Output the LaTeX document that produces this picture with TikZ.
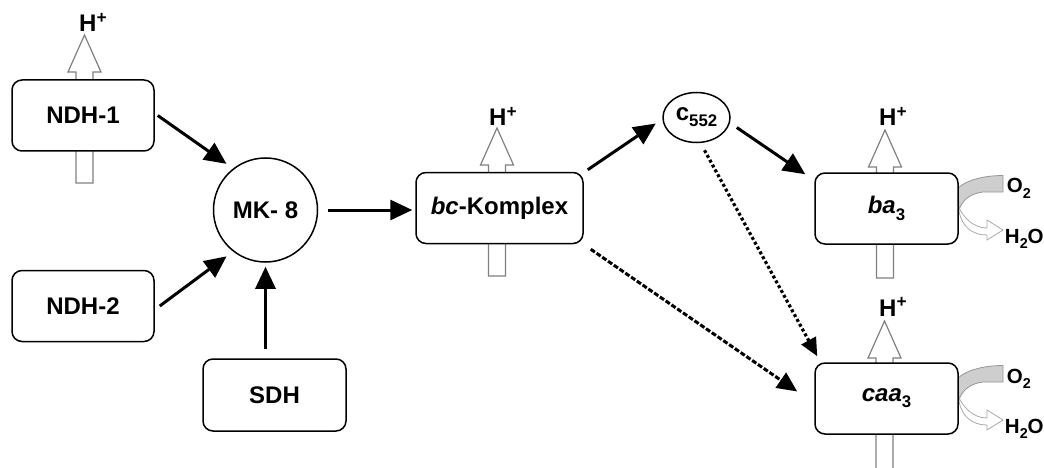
\documentclass[tikz,border=0pt]{standalone}
\usepackage{fontspec}
\usepackage{graphicx}
\setmainfont{Liberation Sans}
\usetikzlibrary{arrows.meta,calc,shapes.geometric}
\newcommand\lowsub[1]{\raisebox{-0.26em}{\scalebox{0.7}{#1}}}
\newcommand\hplus{H\raisebox{0.36em}{\scalebox{0.72}{+}}}
\definecolor{upgray}{RGB}{128,128,128}
\definecolor{bandgray}{RGB}{206,206,206}
\definecolor{bandline}{RGB}{150,150,150}
\definecolor{waterline}{RGB}{170,170,170}
\begin{document}
\begin{tikzpicture}[x=1pt,y=-1pt,
  box/.style={draw, line width=1.5pt, rounded corners=10pt, fill=white,
    minimum width=142pt, minimum height=71pt, inner sep=0pt,
    font=\fontsize{24}{28}\selectfont\bfseries},
  circ/.style={draw, circle, line width=1.5pt, fill=white, minimum size=104pt,
    inner sep=0pt, font=\fontsize{24}{28}\selectfont\bfseries},
  ell/.style={draw, ellipse, line width=1.5pt, fill=white, minimum width=67pt,
    minimum height=50pt, inner sep=0pt, font=\fontsize{24}{28}\selectfont\bfseries},
  hp/.style={inner sep=0pt, font=\fontsize{24}{28}\selectfont\bfseries},
  ox/.style={inner sep=0pt, font=\fontsize{20.5}{24}\selectfont\bfseries},
  arr/.style={line width=3pt, -{Triangle[length=22pt,width=20pt]}},
  dotarr/.style={line width=3.2pt, dash pattern=on 3pt off 2.5pt, -{Triangle[length=18pt,width=16pt]}},
  dasharr/.style={line width=3pt, dash pattern=on 5pt off 2pt, -{Triangle[length=20pt,width=18pt]}},
  upar/.pic={\draw[upgray, line width=1.2pt, fill=white, line join=miter]
    (-8.5,148) -- (-8.5,37) -- (-16.5,37) -- (0,0) -- (16.5,37) -- (8.5,37) -- (8.5,148) -- cycle;},
  o2band/.pic={
    \draw[bandline, line width=0.8pt, fill=bandgray]
      (0,-20.5) .. controls (8,-28) and (25,-33) .. (45,-33) -- (45,-16.5) -- (25,-16.5)
      .. controls (12,-15) and (4,-8) .. (1,1.5) -- cycle;
    \draw[waterline, line width=0.8pt, fill=white, line join=miter]
      (1,-0.5) .. controls (6,9) and (15,19.5) .. (29,19.5) -- (29,11.5) -- (45,21.5)
      -- (29,31.5) -- (29,26.5) .. controls (14,26.5) and (4,18) .. (1,3) -- cycle;}
]
\useasboundingbox (0,0) rectangle (1044,468);

% proton pump arrows (behind the boxes)
\pic at (84.5,35) {upar};
\pic at (497,128) {upar};
\pic at (885,130) {upar};
\pic at (884.5,321) {upar};

% O2 / H2O bands
\pic at (958,208.5) {o2band};
\pic at (958,398.5) {o2band};

% nodes
\node[box] (ndh1) at (83,115.5) {NDH-1};
\node[box] (ndh2) at (83,306) {NDH-2};
\node[box, minimum width=143pt, minimum height=72pt] (sdh) at (274.5,395) {SDH};
\node[circ] (mk8) at (265.5,210) {MK- 8};
\node[box, minimum width=167pt] (bc) at (499.5,208) {\textit{bc}-Komplex};
\node[ell] (c552) at (696.5,117.5) {c\lowsub{552}};
\node[box, minimum width=143pt] (ba3) at (886.5,208.5) {\textit{ba}\lowsub{3}};
\node[box, minimum width=143pt] (caa3) at (886.5,398.5) {\textit{caa}\lowsub{3}};

% H+ labels
\node[hp, anchor=base west] (hp1) at (79,32) {\hplus};
\node[hp, anchor=base west] (hp2) at (489,126) {\hplus};
\node[hp, anchor=base west] (hp3) at (879,126) {\hplus};
\node[hp, anchor=base west] (hp4) at (879,316) {\hplus};

% O2 / H2O labels
\node[ox, anchor=base west] (o2a) at ($(ba3.east)+(48,-15.5)$) {O\lowsub{2}};
\node[ox, anchor=base west] (h2oa) at ($(ba3.east)+(46,34.5)$) {H\lowsub{2}O};
\node[ox, anchor=base west] (o2b) at ($(caa3.east)+(48,-15.5)$) {O\lowsub{2}};
\node[ox, anchor=base west] (h2ob) at ($(caa3.east)+(46,34.5)$) {H\lowsub{2}O};

% connectors
\draw[arr, shorten >=8pt] ([xshift=3pt]ndh1.east) -- (mk8.128);
\draw[arr, shorten >=8pt] ([xshift=5pt]ndh2.east) -- (mk8.232);
\draw[arr, shorten <=9pt, shorten >=4pt] (sdh.north -| mk8.south) -- (mk8.south);
\draw[arr, shorten <=10pt, shorten >=3pt] (mk8.east) -- (mk8.east -| bc.west);
\draw[arr] ([xshift=4pt,yshift=2pt]bc.north east) -- ([xshift=-6.5pt,yshift=-6pt]c552.west);
\draw[arr] ([xshift=6pt,yshift=-10pt]c552.east) -- ([xshift=-9pt,yshift=-2pt]ba3.north west);
\draw[dotarr] ([xshift=8pt,yshift=-7pt]c552.south) -- ([xshift=3pt,yshift=6pt]caa3.north west);
\draw[dasharr] ([xshift=7pt,yshift=-5pt]bc.south east) -- ([xshift=-17pt,yshift=7pt]caa3.west);
\end{tikzpicture}
\end{document}
